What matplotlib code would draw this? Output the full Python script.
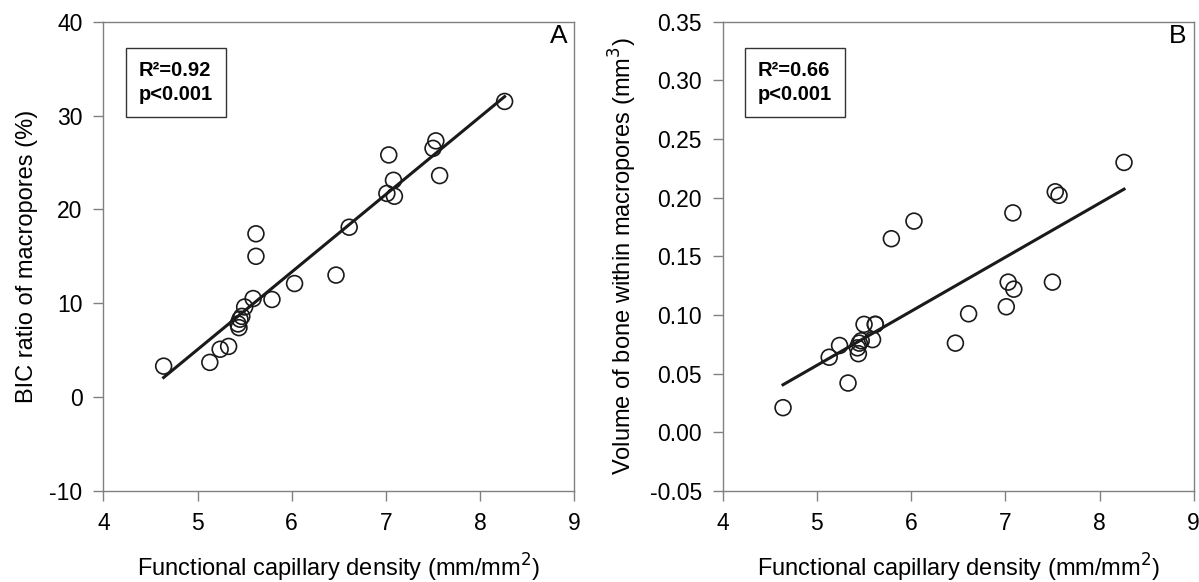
import matplotlib.pyplot as plt
import numpy as np

plt.rcParams['font.family'] = ['Liberation Sans', 'DejaVu Sans']

# functional capillary density (mm/mm2), shared by both panels
fcd = [4.64, 5.13, 5.24, 5.33, 5.44, 5.43, 5.45, 5.47, 5.50, 5.59, 5.62, 5.62,
       5.79, 6.03, 6.47, 6.61, 7.01, 7.03, 7.08, 7.09, 7.50, 7.53, 7.57, 8.26]
# panel A: BIC ratio of macropores (%)
bic = [3.3, 3.7, 5.1, 5.4, 7.4, 7.8, 8.3, 8.6, 9.6, 10.5, 15.0, 17.4,
       10.4, 12.1, 13.0, 18.1, 21.7, 25.8, 23.1, 21.4, 26.5, 27.3, 23.6, 31.5]
# panel B: volume of bone within macropores (mm3)
vol = [0.021, 0.064, 0.074, 0.042, 0.067, 0.072, 0.076, 0.078, 0.092, 0.079, 0.092, 0.092,
       0.165, 0.180, 0.076, 0.101, 0.107, 0.128, 0.187, 0.122, 0.128, 0.205, 0.202, 0.230]

stats_a = 'R²=0.92\np<0.001'
stats_b = 'R²=0.66\np<0.001'

fig = plt.figure(figsize=(11.99, 5.82), dpi=100)
ax_a = fig.add_axes([0.0862, 0.1564, 0.3928, 0.8064])
ax_b = fig.add_axes([0.6028, 0.1564, 0.3928, 0.8064])

grey = '#808080'
panels = [
    (ax_a, bic, (-10, 40), np.arange(-10, 41, 10), 'BIC ratio of macropores (%)', 'A', stats_a, '%d'),
    (ax_b, vol, (-0.05, 0.35), np.arange(-0.05, 0.351, 0.05),
     'Volume of bone within macropores (mm$^3$)', 'B', stats_b, '%.2f'),
]

x = np.array(fcd)
for ax, yvals, ylim, yticks, ylabel, letter, stats, fmt in panels:
    y = np.array(yvals)
    slope, icpt = np.polyfit(x, y, 1)
    xs = np.array([x.min(), x.max()])
    ax.plot(xs, slope * xs + icpt, color='#1a1a1a', lw=2.2, zorder=3)
    ax.scatter(x, y, s=130, facecolors='none', edgecolors='#1a1a1a', linewidths=1.2, zorder=4)

    ax.set_xlim(4, 9)
    ax.set_ylim(*ylim)
    ax.set_xticks(range(4, 10))
    ax.set_yticks(yticks)
    ax.set_yticklabels([fmt % v if abs(v) > 1e-9 else ('0' if fmt == '%d' else '0.00') for v in yticks])
    for s in ax.spines.values():
        s.set_color(grey)
        s.set_linewidth(1.0)
    ax.tick_params(direction='out', length=7, width=1.0, color=grey, labelsize=16.5, pad=8)
    ax.set_xlabel('Functional capillary density (mm/mm$^2$)', fontsize=17, labelpad=12)
    ax.set_ylabel(ylabel, fontsize=17, labelpad=8)
    ax.text(0.985, 0.995, letter, transform=ax.transAxes, ha='right', va='top', fontsize=19)
    ax.text(0.075, 0.87, stats, transform=ax.transAxes, ha='left', va='center', fontsize=14.5,
            fontweight='bold', linespacing=1.3,
            bbox=dict(boxstyle='square,pad=0.65', facecolor='white', edgecolor='#333333', lw=1.0))

fig.savefig('out.png', dpi=100)
